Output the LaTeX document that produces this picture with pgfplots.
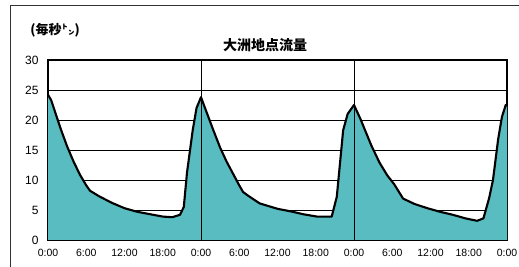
\documentclass[border=0pt]{standalone}
\usepackage{fontspec}
\setmainfont{Liberation Sans}
\newfontfamily\cjk{Noto Sans CJK JP}
\usepackage{pgfplots}
\pgfplotsset{compat=1.18}
\definecolor{flow}{RGB}{88,188,192}
\begin{document}
\begin{tikzpicture}
\useasboundingbox (0pt,0pt) rectangle (519pt,267pt);
\fill[white] (0pt,0pt) rectangle (519pt,267pt);
\draw[line width=1pt,black!80] (10pt,0pt) -- (10pt,261pt) -- (519pt,261pt);
\node[font=\cjk\bfseries\fontsize{13}{14}\selectfont] at (55pt,237pt) {(毎秒㌧)};
\node[font=\cjk\bfseries\fontsize{14}{15}\selectfont] at (265pt,222pt) {大洲地点流量};
\begin{axis}[
  at={(48pt,27pt)}, anchor=south west,
  scale only axis, width=459pt, height=180pt,
  xmin=0, xmax=72, ymin=0, ymax=30,
  xtick={0,6,...,72},
  xticklabels={0:00,6:00,12:00,18:00,0:00,6:00,12:00,18:00,0:00,6:00,12:00,18:00,0:00},
  ytick={0,5,...,30},
  ymajorgrids, major grid style={black, line width=0.9pt},
  major tick length=0pt,
  axis line style={black, line width=1.3pt},
  /pgf/number format/assume math mode=true,
  xticklabel style={font=\fontsize{10.5}{11}\selectfont, yshift=-6pt},
  yticklabel style={font=\fontsize{12}{13}\selectfont, xshift=-6pt},
]
\addplot[fill=flow, draw=none] coordinates {
(0,24.2) (0.5,23.3) (1,21.7) (2,18.5) (3,15.6) (4,13.1) (5,10.9) (6,9.1) (6.6,8.2) (8,7.3) (10,6.2) (12,5.3) (14,4.7) (16,4.3) (18,3.9) (19.5,3.8) (20.7,4.2) (21.3,5.5) (21.8,11.2) (22.7,18.3) (23.3,22) (24,23.8)
(24.7,21.8) (25.9,18.4) (27,15.4) (28,13.1) (29,11.1) (30,9.1) (30.6,8) (31.5,7.3) (33.2,6.1) (36,5.2) (38.4,4.7) (40,4.3) (42.2,3.9) (44.5,3.9) (45.3,7.2) (46.3,18.3) (47,21) (48,22.5)
(49,20.2) (50.7,15.8) (52,12.9) (53.2,10.8) (54.3,9.3) (55.7,6.9) (57.5,6) (59.5,5.3) (61.5,4.7) (63.5,4.2) (65.5,3.6) (67.3,3.2) (68.3,3.6) (69.2,7) (69.8,10) (70.6,16.7) (71.2,20.5) (71.8,22.5) (72,22.3)
} \closedcycle;
\addplot[black, line width=2.1pt, line join=round] coordinates {
(0,24.2) (0.5,23.3) (1,21.7) (2,18.5) (3,15.6) (4,13.1) (5,10.9) (6,9.1) (6.6,8.2) (8,7.3) (10,6.2) (12,5.3) (14,4.7) (16,4.3) (18,3.9) (19.5,3.8) (20.7,4.2) (21.3,5.5) (21.8,11.2) (22.7,18.3) (23.3,22) (24,23.8)
(24.7,21.8) (25.9,18.4) (27,15.4) (28,13.1) (29,11.1) (30,9.1) (30.6,8) (31.5,7.3) (33.2,6.1) (36,5.2) (38.4,4.7) (40,4.3) (42.2,3.9) (44.5,3.9) (45.3,7.2) (46.3,18.3) (47,21) (48,22.5)
(49,20.2) (50.7,15.8) (52,12.9) (53.2,10.8) (54.3,9.3) (55.7,6.9) (57.5,6) (59.5,5.3) (61.5,4.7) (63.5,4.2) (65.5,3.6) (67.3,3.2) (68.3,3.6) (69.2,7) (69.8,10) (70.6,16.7) (71.2,20.5) (71.8,22.5) (72,22.3)
};
\draw[black, line width=0.9pt] (axis cs:24,0) -- (axis cs:24,30);
\draw[black, line width=0.9pt] (axis cs:48,0) -- (axis cs:48,30);
\end{axis}
\end{tikzpicture}
\end{document}
